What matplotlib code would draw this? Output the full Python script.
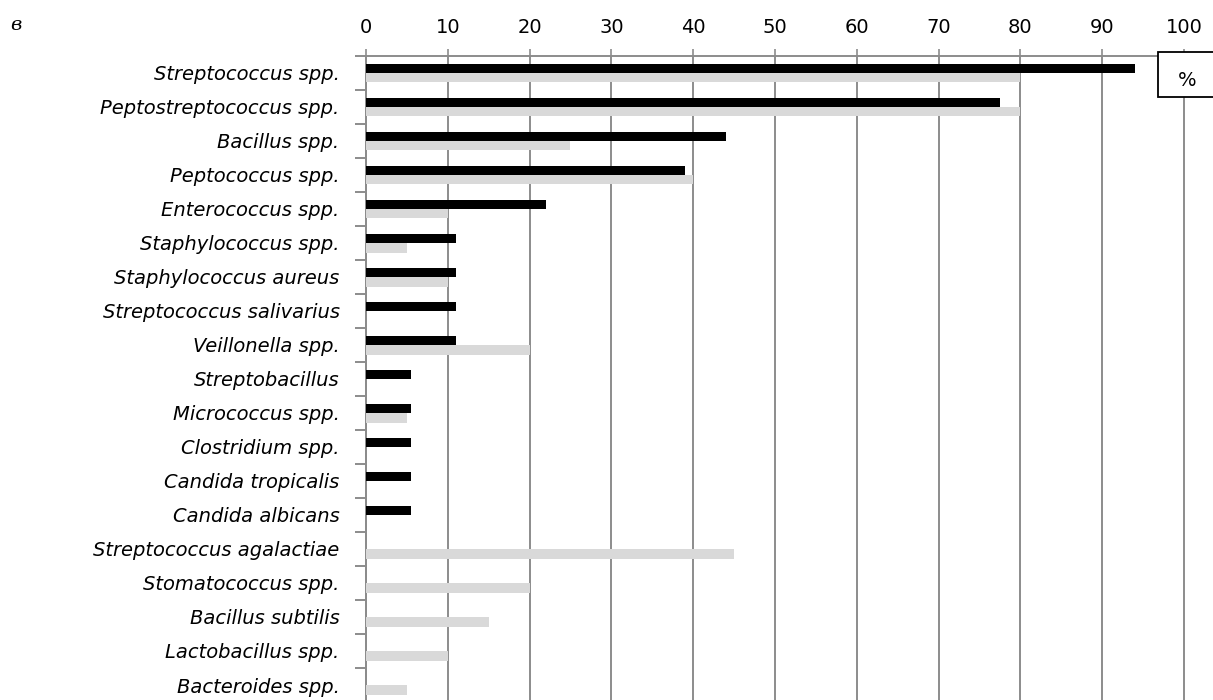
import numpy as np
import matplotlib.pyplot as plt
from matplotlib.patches import Rectangle

# Species (top to bottom) and percentages for the two groups
species = ['Streptococcus spp.', 'Peptostreptococcus spp.', 'Bacillus spp.',
           'Peptococcus spp.', 'Enterococcus spp.', 'Staphylococcus spp.',
           'Staphylococcus aureus', 'Streptococcus salivarius', 'Veillonella spp.',
           'Streptobacillus', 'Micrococcus spp.', 'Clostridium spp.',
           'Candida tropicalis', 'Candida albicans', 'Streptococcus agalactiae',
           'Stomatococcus spp.', 'Bacillus subtilis', 'Lactobacillus spp.',
           'Bacteroides spp.']
black_vals = [94, 77.5, 44, 39, 22, 11, 11, 11, 11, 5.5, 5.5, 5.5, 5.5, 5.5,
              0, 0, 0, 0, 0]
gray_vals = [80, 80, 25, 40, 10, 5, 10, 0, 20, 0, 5, 0, 0, 0,
             45, 20, 15, 10, 5]
x_ticks = list(range(0, 101, 10))

plt.rcParams['font.family'] = ['DejaVu Sans']

fig = plt.figure(figsize=(12.13, 7.0), dpi=100)
ax = fig.add_axes([0.3017, -0.00286, 0.6743, 0.9229])

y = np.arange(len(species))
h = 0.27
ax.barh(y - h / 2 + 0.01, black_vals, height=h, color='black',
        linewidth=0, zorder=3)
ax.barh(y + h / 2 + 0.01, gray_vals, height=h, color='#d9d9d9',
        linewidth=0, zorder=3)

ax.set_xlim(0, 100)
ax.set_ylim(len(species) - 0.5, -0.5)

ax.xaxis.tick_top()
ax.set_xticks(x_ticks)
ax.tick_params(axis='x', which='major', direction='out', length=5,
               color='#8c8c8c', width=1.2, labelsize=14, pad=9)
ax.grid(axis='x', color='#8c8c8c', linewidth=1.4, zorder=1)
for gl in ax.get_xgridlines():
    gl.set_clip_on(False)

ax.set_yticks(y)
ax.set_yticklabels(species, fontstyle='italic', fontsize=14)
ax.set_yticks(np.arange(len(species) + 1) - 0.5, minor=True)
ax.tick_params(axis='y', which='major', length=0, pad=19)
ax.tick_params(axis='y', which='minor', length=8, color='#8c8c8c', width=1.4)

for side in ['right', 'bottom']:
    ax.spines[side].set_visible(False)
for side in ['left', 'top']:
    ax.spines[side].set_color('#8c8c8c')
    ax.spines[side].set_linewidth(1.4)

# percent box at top right
box = Rectangle((1158 / 1213, 1 - 97 / 700), 0.06, 45 / 700,
                transform=fig.transFigure, facecolor='white',
                edgecolor='black', linewidth=1.3, zorder=10)
fig.patches.append(box)
fig.text(1187 / 1213, 1 - 80 / 700, '%', fontsize=14, ha='center',
         va='center', zorder=11)

fig.text(10 / 1213, 1 - 25 / 700, 'в', fontsize=14, fontstyle='italic',
         family='DejaVu Serif', ha='left', va='center')

fig.savefig('out.png', dpi=100)
